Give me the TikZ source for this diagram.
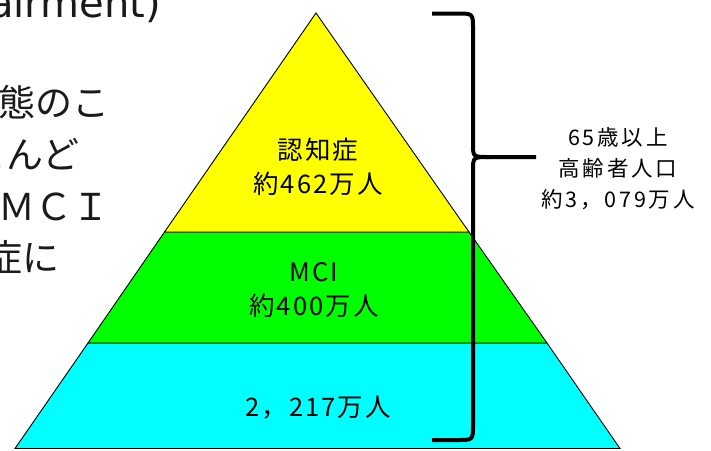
\documentclass[tikz,border=0pt]{standalone}
\usepackage{fontspec}
\newfontfamily\jp{Noto Sans CJK JP}
\newfontfamily\lat{DejaVu Sans}
\definecolor{tieryellow}{HTML}{FFFF00}
\definecolor{tiergreen}{HTML}{00FF00}
\definecolor{tiercyan}{HTML}{00FFFF}
\definecolor{slidetext}{HTML}{1A1A1A}
\tikzset{
  tier/.style={draw=black, line width=0.9pt, line join=miter},
  tierlabel/.style={font=\jp\fontsize{25.5}{34}\selectfont\addfontfeature{LetterSpace=8}, align=center, inner sep=0pt, text=black},
  sidelabel/.style={font=\jp\fontsize{21.5}{31}\selectfont\addfontfeature{LetterSpace=13}, align=center, inner sep=0pt, text=black},
  bracestroke/.style={draw=black, line width=4pt},
  slidejp/.style={font=\jp\fontsize{37}{37}\selectfont, anchor=base east, inner sep=0pt, text=slidetext},
  slidelat/.style={font=\lat\fontsize{40}{40}\selectfont, anchor=base east, inner sep=0pt, text=slidetext}
}
\begin{document}
\begin{tikzpicture}[x=1pt,y=-1pt]
\useasboundingbox (0,0) rectangle (711,450);
\clip (0,0) rectangle (711,450);
\fill[white] (0,0) rectangle (711,450);

% pyramid corners
\coordinate (apex) at (316,13);
\coordinate (yl) at (164.5,232);
\coordinate (yr) at (469,232);
\coordinate (gl) at (88,343);
\coordinate (gr) at (547,343);
\coordinate (bl) at (15,448.5);
\coordinate (br) at (620,448.5);

\draw[tier, fill=tiercyan] (gl) -- (gr) -- (br) -- (bl) -- cycle;
\draw[tier, fill=tiergreen] (yl) -- (yr) -- (gr) -- (gl) -- cycle;
\draw[tier, fill=tieryellow] (apex) -- (yr) -- (yl) -- cycle;

\node[tierlabel] (dementia) at (318,167) {認知症\\約462万人};
\node[tierlabel] (mci) at (314,290) {MCI\\約400万人};
\node[tierlabel] (normal) at (318,408) {2，217万人};

% brace
\coordinate (btop) at (432,13.5);
\coordinate (btip) at (536,157);
\coordinate (bbot) at (432,440);
\draw[bracestroke] (btop) -- (457,13.5) .. controls (473,13.5) .. (473,29)
   -- (473,144) .. controls (473,157) .. (489,157) -- (btip);
\draw[bracestroke] (489,157) .. controls (473,157) .. (473,171)
   -- (473,425) .. controls (473,440) .. (457,440) -- (bbot);

\node[sidelabel] (elderly) at (618,169) {65歳以上\\高齢者人口\\約3，079万人};

% cut-off slide text on the left
\node[slidelat] (l0) at (161,17) {airment)};
\node[slidejp] (l1) at (110,116) {状態のこ};
\node[slidejp] (l2) at (80,168) {ほとんど};
\node[slidejp] (l3) at (110,220) {ＭＣＩ};
\node[slidejp] (l4) at (60,271) {認知症に};
\end{tikzpicture}
\end{document}
